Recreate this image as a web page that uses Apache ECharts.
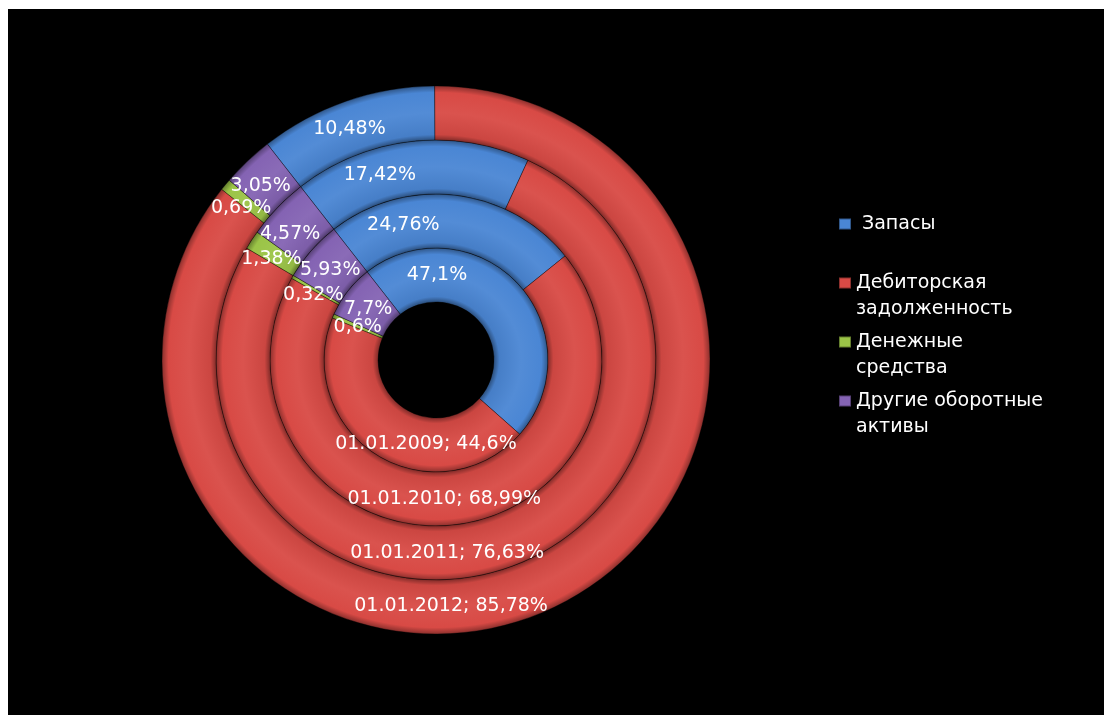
<!DOCTYPE html>
<html>
<head>
<meta charset="utf-8">
<script src="https://cdn.jsdelivr.net/npm/echarts@6/dist/echarts.min.js"></script>
<style>
  html, body { margin: 0; padding: 0; background: #ffffff; overflow: hidden; width: 100%; height: 100%; }
  #chart { position: absolute; left: 8px; top: 9px; right: 0; bottom: 0; }
</style>
</head>
<body>
<div id="chart"></div>
<script>
// Structure of current assets by reporting date, % of total
const categories = ['Запасы', 'Дебиторская задолженность', 'Денежные средства', 'Другие оборотные активы'];
const dates = ['01.01.2009', '01.01.2010', '01.01.2011', '01.01.2012'];
const share2009 = [47.1, 44.6, 0.6, 7.7];
const share2010 = [24.76, 68.99, 0.32, 5.93];
const share2011 = [17.42, 76.63, 1.38, 4.57];
const share2012 = [10.48, 85.78, 0.69, 3.05];
const shares = [share2009, share2010, share2011, share2012];

// Styling
const baseColors = ['#4a86d4', '#d84a45', '#9bc447', '#8463b3'];
const CX = 428, CY = 351;
const ringEdges = [58, 112, 166, 220, 274];
// label angle (degrees clockwise from 12 o'clock) for each ring, per category
const labelAngles = [
  [0.7, 186.8, -67, -52.9],
  [-13.6, 176.6, -62, -49.5],
  [-16.9, 176.7, -58.5, -49.1],
  [-20.5, 176.5, -52.1, -45.2]
];

function mix(hex, target, t) {
  const n = parseInt(hex.slice(1), 16);
  const r = (n >> 16) & 255, g = (n >> 8) & 255, b = n & 255;
  const tv = target === 'white' ? 255 : 0;
  const f = v => Math.round(v + (tv - v) * t);
  return 'rgb(' + f(r) + ',' + f(g) + ',' + f(b) + ')';
}

// tube-like shading across the ring width
function ringFill(base, r0, r1) {
  const w = r1 - r0;
  return {
    type: 'radial', x: CX, y: CY, r: r1, global: true,
    colorStops: [
      { offset: r0 / r1, color: mix(base, 'black', 0.4) },
      { offset: (r0 + 0.1 * w) / r1, color: mix(base, 'black', 0.06) },
      { offset: (r0 + 0.5 * w) / r1, color: mix(base, 'white', 0.05) },
      { offset: (r1 - 0.12 * w) / r1, color: base },
      { offset: 1, color: mix(base, 'black', 0.35) }
    ]
  };
}

function pct(v) { return String(v).replace('.', ',') + '%'; }

const series = shares.map((vals, ring) => {
  const r0 = ringEdges[ring], r1 = ringEdges[ring + 1];
  return {
    type: 'pie',
    name: dates[ring],
    center: [CX, CY],
    radius: [r0, r1],
    startAngle: 128,
    clockwise: true,
    avoidLabelOverlap: false,
    silent: true,
    labelLine: { show: false },
    label: {
      show: true,
      position: 'inside',
      color: '#ffffff',
      fontFamily: 'DejaVu Sans',
      fontSize: 19,
      formatter: p => p.dataIndex === 1 ? dates[ring] + '; ' + pct(p.value) : pct(p.value)
    },
    labelLayout: p => {
      const a = labelAngles[ring][p.dataIndex] * Math.PI / 180;
      const rm = (r0 + r1) / 2;
      return { x: CX + rm * Math.sin(a), y: CY - rm * Math.cos(a) };
    },
    itemStyle: { borderColor: 'rgba(0,0,0,0.35)', borderWidth: 1 },
    data: categories.map((c, i) => ({
      name: c,
      value: vals[i],
      itemStyle: { color: ringFill(baseColors[i], r0, r1) }
    }))
  };
});

function legendText(name) {
  const k = name.lastIndexOf(' ');
  const body = k < 0 ? ' ' + name + '\n ' : name.slice(0, k) + '\n' + name.slice(k + 1);
  return ' \n' + body;
}

const chart = echarts.init(document.getElementById('chart'));
chart.setOption({
  backgroundColor: '#000000',
  animation: false,
  legend: {
    orient: 'vertical',
    left: 830,
    top: 176,
    padding: 0,
    itemGap: -19,
    itemWidth: 12,
    itemHeight: 11,
    icon: 'rect',
    selectedMode: false,
    formatter: legendText,
    textStyle: { color: '#ffffff', fontFamily: 'DejaVu Sans', fontSize: 19, lineHeight: 26 },
    data: categories.map((c, i) => ({ name: c, itemStyle: { color: baseColors[i] } }))
  },
  series: series
});
</script>
</body>
</html>
